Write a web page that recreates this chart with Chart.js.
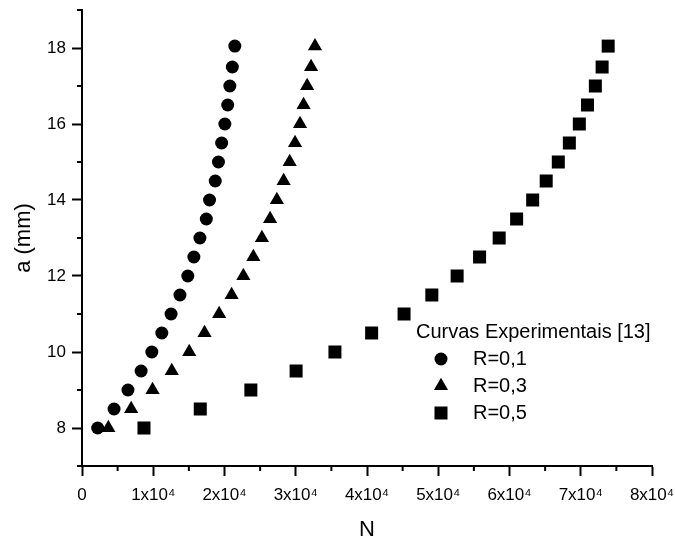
<!DOCTYPE html>
<html>
<head>
<meta charset="utf-8">
<title>a x N</title>
<script src="https://cdn.jsdelivr.net/npm/chart.js@4.4.1/dist/chart.umd.min.js"></script>
<style>
    html, body { margin: 0; padding: 0; background: #fff; }
    canvas { display: block; }
</style>
</head>
<body>
<canvas id="chart" width="675" height="541"></canvas>
<script>
// crack length a (mm), same levels for the three load ratios
const aLevels = [8, 8.5, 9, 9.5, 10, 10.5, 11, 11.5, 12, 12.5, 13, 13.5, 14, 14.5, 15, 15.5, 16, 16.5, 17, 17.5, 18.05];

// number of cycles N
const nR01 = [2200, 4500, 6450, 8300, 9800, 11200, 12500, 13750, 14850, 15700, 16550,
    17450, 17900, 18700, 19150, 19600, 20050, 20450, 20750, 21100, 21450];
const nR03 = [3700, 6900, 9900, 12600, 15050, 17200, 19250, 21000, 22650, 24050, 25250,
    26400, 27350, 28300, 29150, 29900, 30600, 31100, 31600, 32150, 32700];
const nR05 = [8700, 16600, 23700, 30050, 35500, 40650, 45200, 49100, 52650, 55800, 58550,
    61000, 63250, 65150, 66850, 68400, 69800, 70950, 72050, 73000, 73850];

const seriesLabels = ['R=0,1', 'R=0,3', 'R=0,5'];
const legendTitle = 'Curvas Experimentais [13]';
const xTickLabels = ['0', '1x10⁴', '2x10⁴', '3x10⁴', '4x10⁴', '5x10⁴', '6x10⁴', '7x10⁴', '8x10⁴'];
const yTickValues = [8, 10, 12, 14, 16, 18];

const FONT = '"Liberation Sans", Arial, sans-serif';
const markers = [
    {pointStyle: 'circle', radius: 6.5},
    {pointStyle: 'triangle', radius: 8.2},
    {pointStyle: 'rect', radius: 9.2},
];

const toPoints = (xs, ys) => xs.map((v, i) => ({x: v, y: ys[i]}));

// Origin style half-step ticks, shorter than the labelled ones
const minorTicks = {
    id: 'minorTicks',
    afterDraw(chart) {
        const {ctx, scales: {x, y}} = chart;
        ctx.save();
        ctx.strokeStyle = '#000';
        ctx.lineWidth = 2;
        ctx.beginPath();
        for (let v = x.min + 5000; v < x.max; v += 10000) {
            const px = x.getPixelForValue(v);
            ctx.moveTo(px, x.top);
            ctx.lineTo(px, x.top + 5);
        }
        for (let v = y.min; v <= y.max; v += 2) {
            const py = y.getPixelForValue(v);
            ctx.moveTo(y.right - 5, py);
            ctx.lineTo(y.right, py);
        }
        ctx.stroke();
        ctx.restore();
    }
};

// legend sits inside the plot, below-right of the curves
const insideLegend = {
    id: 'insideLegend',
    afterDraw(chart) {
        const {ctx, chartArea} = chart;
        const left = chartArea.left + 334;
        const top = chartArea.top + 322;
        ctx.save();
        ctx.fillStyle = '#000';
        ctx.font = '20px ' + FONT;
        ctx.textBaseline = 'middle';
        ctx.textAlign = 'left';
        ctx.fillText(legendTitle, left, top);
        chart.data.datasets.forEach((ds, i) => {
            const rowY = top + 27 * (i + 1);
            Chart.helpers.drawPoint(ctx, {
                pointStyle: ds.pointStyle,
                radius: ds.pointRadius,
                rotation: 0,
                borderWidth: 0,
            }, left + 25, rowY);
            ctx.fillStyle = '#000';
            ctx.fillText(ds.label, left + 57, rowY);
        });
        ctx.restore();
    }
};

const datasets = [nR01, nR03, nR05].map((ns, i) => ({
    label: seriesLabels[i],
    data: toPoints(ns, aLevels),
    pointStyle: markers[i].pointStyle,
    pointRadius: markers[i].radius,
    pointBackgroundColor: '#000',
    pointBorderColor: '#000',
    pointBorderWidth: 0,
    showLine: false,
}));

new Chart(document.getElementById('chart'), {
    type: 'scatter',
    data: {datasets},
    plugins: [minorTicks, insideLegend],
    options: {
        responsive: false,
        animation: false,
        devicePixelRatio: 1,
        layout: {padding: {top: 10, right: 23, left: 0, bottom: 0}},
        plugins: {
            legend: {display: false},
            tooltip: {enabled: false},
        },
        scales: {
            x: {
                type: 'linear',
                min: 0,
                max: 80000,
                afterFit: (scale) => {
                    scale.height = 75;
                    scale.paddingLeft = 0;
                    scale.paddingRight = 0;
                },
                border: {display: true, color: '#000', width: 2},
                grid: {drawOnChartArea: false, drawTicks: true, tickLength: 10, tickWidth: 2, tickColor: '#000'},
                ticks: {
                    stepSize: 10000,
                    padding: 9,
                    color: '#000',
                    font: {family: FONT, size: 17},
                    callback: (value) => xTickLabels[Math.round(value / 10000)],
                },
                title: {
                    display: true,
                    text: 'N',
                    color: '#000',
                    font: {family: FONT, size: 22, lineHeight: 1.0},
                    padding: {top: 0, bottom: 0.5},
                },
            },
            y: {
                type: 'linear',
                min: 7,
                max: 19,
                afterFit: (scale) => {
                    scale.width = 82;
                    scale.paddingTop = 0;
                    scale.paddingBottom = 0;
                },
                afterBuildTicks: (scale) => { scale.ticks = yTickValues.map((v) => ({value: v})); },
                border: {display: true, color: '#000', width: 2},
                grid: {drawOnChartArea: false, drawTicks: true, tickLength: 10, tickWidth: 2, tickColor: '#000'},
                ticks: {
                    padding: 6,
                    color: '#000',
                    font: {family: FONT, size: 17},
                    callback: (value) => String(value),
                },
                title: {
                    display: true,
                    text: 'a (mm)',
                    color: '#000',
                    font: {family: FONT, size: 22},
                    padding: {top: 11, bottom: 0},
                },
            },
        },
    },
});
</script>
</body>
</html>
